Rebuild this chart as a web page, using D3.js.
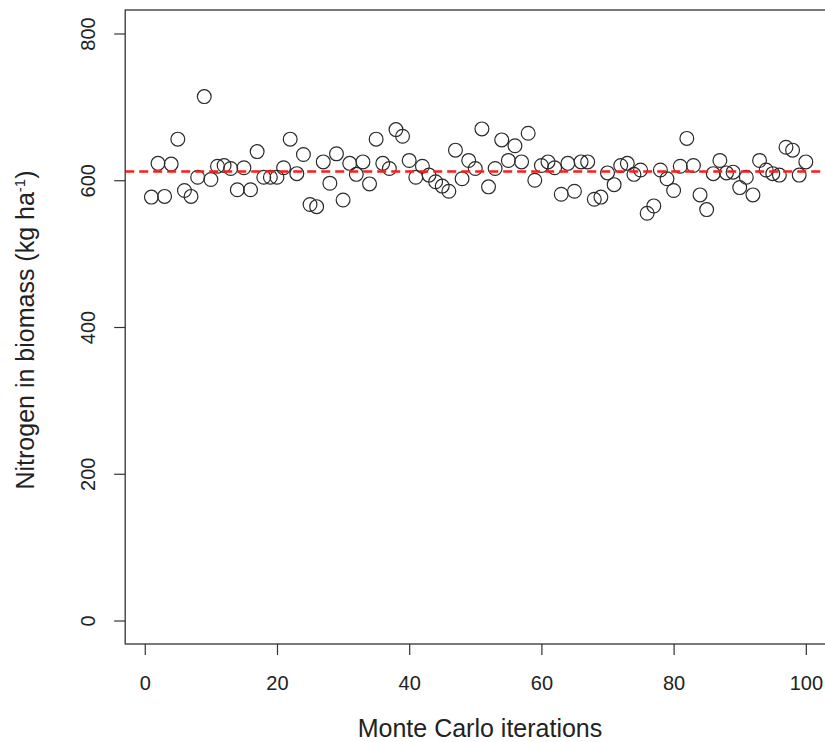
<!DOCTYPE html>
<html lang="en">

<head>
    <meta charset="UTF-8">
    <title>Nitrogen in biomass - Monte Carlo</title>
    <script src="https://cdn.jsdelivr.net/npm/d3@7"></script>
    <style type="text/css">
        html,
        body {
            margin: 0;
            padding: 0;
            background: white;
        }

        svg {
            display: block;
        }

        .axis text,
        .title {
            font-family: "Liberation Sans", Arial, sans-serif;
            fill: #222;
        }

        .axis text {
            font-size: 20px;
        }

        .title {
            font-size: 25px;
        }

        .axis line {
            stroke: #333;
            stroke-width: 1.2;
        }

        .axis path.domain {
            stroke: none;
        }

        .point {
            fill: none;
            stroke: #2a2a2a;
            stroke-width: 1.2;
        }

        .meanline {
            stroke: #ff1a1a;
            stroke-width: 2.6;
            stroke-dasharray: 9, 5;
        }
    </style>
</head>

<body>
    <svg id="chart" width="825" height="742"></svg>
</body>
<script>
    // Monte Carlo iteration number and simulated nitrogen in biomass (kg/ha)
    var iterations = d3.range(1, 101);
    var nitrogen = [
        577, 623, 578, 622, 656, 586, 578, 604, 714, 601,
        619, 620, 616, 587, 617, 587, 639, 604, 604, 604,
        617, 656, 609, 635, 567, 564, 625, 596, 636, 573,
        623, 608, 625, 595, 656, 623, 616, 669, 660, 627,
        604, 619, 607, 598, 592, 585, 641, 602, 627, 616,
        670, 591, 616, 655, 627, 647, 625, 664, 600, 620,
        625, 617, 581, 623, 585, 625, 625, 574, 577, 610,
        594, 620, 623, 608, 614, 555, 565, 614, 602, 586,
        619, 657, 620, 580, 560, 609, 627, 610, 611, 590,
        604, 580, 627, 614, 609, 607, 645, 641, 607, 625
    ];
    var meanValue = 612;

    var xTicks = [0, 20, 40, 60, 80, 100];
    var yTicks = [0, 200, 400, 600, 800];

    var svg = d3.select("#chart");

    // R style: 4% padding around the data / limits
    var xPad = (100 - 1) * 0.04,
        yPad = 800 * 0.04;

    var plot = {
        left: 125.2,
        right: 832,
        top: 10,
        bottom: 644
    };

    var x = d3.scaleLinear().domain([1 - xPad, 100 + xPad]).range([plot.left, plot.right]),
        y = d3.scaleLinear().domain([-yPad, 800 + yPad]).range([plot.bottom, plot.top]);

    // points
    svg.append("g")
        .selectAll("circle")
        .data(iterations)
        .enter().append("circle")
        .attr("class", "point")
        .attr("cx", d => x(d))
        .attr("cy", (d, i) => y(nitrogen[i]))
        .attr("r", 6.9);

    // mean line
    svg.append("line")
        .attr("class", "meanline")
        .attr("x1", plot.left)
        .attr("x2", plot.right)
        .attr("y1", y(meanValue))
        .attr("y2", y(meanValue));

    // box
    svg.append("rect")
        .attr("x", plot.left)
        .attr("y", plot.top)
        .attr("width", plot.right - plot.left)
        .attr("height", plot.bottom - plot.top)
        .attr("fill", "none")
        .attr("stroke", "#333")
        .attr("stroke-width", 1.3);

    // x axis
    var gx = svg.append("g")
        .attr("class", "axis axis--x")
        .attr("transform", "translate(0," + plot.bottom + ")")
        .call(d3.axisBottom(x).tickValues(xTicks).tickSize(11).tickSizeOuter(0));
    gx.selectAll("text")
        .attr("y", 46)
        .attr("dy", 0);

    // y axis, labels parallel to the axis
    var gy = svg.append("g")
        .attr("class", "axis axis--y")
        .attr("transform", "translate(" + plot.left + ",0)")
        .call(d3.axisLeft(y).tickValues(yTicks).tickSize(11).tickSizeOuter(0));
    gy.selectAll("text")
        .attr("x", 0)
        .attr("dy", 0)
        .attr("text-anchor", "middle")
        .attr("transform", "translate(-30,0) rotate(-90)");

    // axis titles
    svg.append("text")
        .attr("class", "title")
        .attr("x", 480)
        .attr("y", 737)
        .attr("text-anchor", "middle")
        .text("Monte Carlo iterations");

    var yt = svg.append("text")
        .attr("class", "title")
        .attr("text-anchor", "middle")
        .attr("transform", "translate(34,330) rotate(-90)");
    yt.append("tspan").text("Nitrogen in biomass (kg ha");
    yt.append("tspan")
        .attr("dy", -9)
        .style("font-size", "15px")
        .text("-1");
    yt.append("tspan")
        .attr("dy", 9)
        .text(")");
</script>

</html>
